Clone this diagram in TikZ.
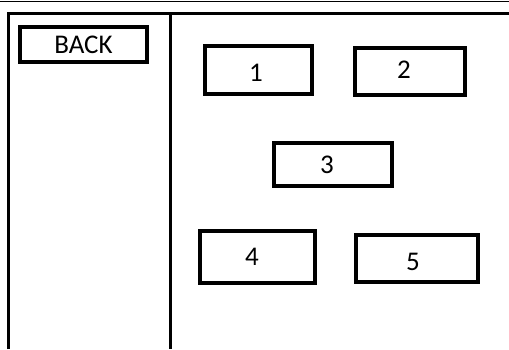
\documentclass[tikz,border=0pt]{standalone}
\usepackage{fontspec}
\setmainfont{Carlito}
\usepackage{tikz}

\tikzset{
  btn/.style={draw,line width=4pt,rectangle,inner sep=0pt},
  txt/.style={font=\fontsize{27}{32}\selectfont},
  frame/.style={line width=3pt}
}

\begin{document}
\begin{tikzpicture}[x=1pt,y=-1pt]
\useasboundingbox (0,0) rectangle (509,349);
\draw[line width=1pt] (0,1)--(509,1);
\draw[frame] (8,349)--(8,13)--(509,13);
\draw[frame] (170,13)--(170,349);
% buttons
\node[btn,txt,minimum width=127pt,minimum height=35pt] (back) at (83.5,44.5) {BACK};
\node[btn,minimum width=107pt,minimum height=48pt,label={[txt,xshift=-2.5pt,yshift=-3pt]center:1}] (b1) at (258.5,70) {};
\node[btn,minimum width=110pt,minimum height=47pt,label={[txt,xshift=-6pt,yshift=1.5pt]center:2}] (b2) at (410,71.5) {};
\node[btn,minimum width=118pt,minimum height=43pt,label={[txt,xshift=-6pt]center:3}] (b3) at (333,164.5) {};
\node[btn,minimum width=115pt,minimum height=52pt,label={[txt,xshift=-5.5pt]center:4}] (b4) at (257.5,257) {};
\node[btn,minimum width=122pt,minimum height=47pt,label={[txt,xshift=-4pt,yshift=-3.5pt]center:5}] (b5) at (417,258.5) {};
\end{tikzpicture}
\end{document}
